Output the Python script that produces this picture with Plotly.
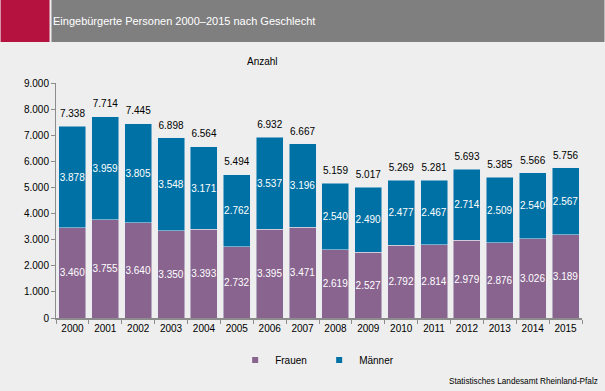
import plotly.graph_objects as go

years = [str(y) for y in range(2000, 2016)]
frauen = [3460, 3755, 3640, 3350, 3393, 2732, 3395, 3471, 2619, 2527, 2792, 2814, 2979, 2876, 3026, 3189]
maenner = [3878, 3959, 3805, 3548, 3171, 2762, 3537, 3196, 2540, 2490, 2477, 2467, 2714, 2509, 2540, 2567]
totals = [7338, 7714, 7445, 6898, 6564, 5494, 6932, 6667, 5159, 5017, 5269, 5281, 5693, 5385, 5566, 5756]
y_ticks = [0, 1000, 2000, 3000, 4000, 5000, 6000, 7000, 8000, 9000]

W, H = 605, 391
L, R, T, B = 55.5, 22.5, 83, 73
PW, PH = W - L - R, H - T - B


def px(x):
    return (x - L) / PW


def py(y):
    return 1 - (y - T) / PH


C_F = "#89648F"
C_M = "#0071A4"
BG = "#EDEEED"
FONT = "Liberation Sans, Arial, sans-serif"

fig = go.Figure()
fig.add_trace(go.Bar(
    x=years, y=frauen, name="Frauen", marker_color=C_F, showlegend=False,
    texttemplate="%{y:,}", textposition="inside", insidetextanchor="middle",
    textangle=0, textfont=dict(color="white", size=10, family=FONT),
))
fig.add_trace(go.Bar(
    x=years, y=maenner, name="Männer", marker_color=C_M, showlegend=False,
    texttemplate="%{y:,}", textposition="inside", insidetextanchor="middle",
    textangle=0, textfont=dict(color="white", size=10, family=FONT),
))
fig.add_trace(go.Scatter(
    x=years, y=totals, mode="markers+text", texttemplate="%{y:,}", textposition="top center",
    marker=dict(size=9, color="rgba(0,0,0,0)"),
    textfont=dict(color="black", size=10, family=FONT), showlegend=False,
    cliponaxis=False, hoverinfo="skip",
))
# legend entries (small squares)
for name, col in [("Frauen", C_F), ("Männer", C_M)]:
    fig.add_trace(go.Scatter(
        x=[None], y=[None], mode="markers", name=name,
        marker=dict(symbol="square", size=6, color=col),
    ))

fig.update_layout(
    width=W, height=H,
    margin=dict(l=L, r=R, t=T, b=B, pad=0, autoexpand=False),
    paper_bgcolor=BG, plot_bgcolor=BG,
    barmode="stack", bargap=0.18,
    separators=",.",
    font=dict(family=FONT, size=10, color="black"),
    uniformtext=dict(minsize=10, mode="show"),
    showlegend=True,
    legend=dict(
        orientation="h", traceorder="normal", x=px(235), y=py(360), xanchor="left", yanchor="middle",
        bgcolor="rgba(0,0,0,0)", font=dict(size=10, family=FONT), entrywidth=39,
        itemclick=False,
    ),
    xaxis=dict(
        type="category", range=[-0.5, len(years) - 0.5],
        showgrid=False, showline=True, linecolor="#8C8C8C", linewidth=2,
        ticks="outside", tickson="boundaries", ticklen=4, tickcolor="#8C8C8C", tickwidth=1,
        tickangle=0, automargin=False,
        tickfont=dict(size=10, family=FONT, color="black"),
    ),
    yaxis=dict(
        range=[0, 9000], tickvals=y_ticks, tickformat=",", showgrid=False, zeroline=False,
        showline=True, linecolor="#8C8C8C", linewidth=1, automargin=False,
        ticks="outside", ticklen=4, tickcolor="#8C8C8C",
        tickfont=dict(size=10, family=FONT, color="black"),
    ),
    shapes=[
        dict(type="rect", xref="paper", yref="paper", x0=px(0), x1=px(49), y0=py(0), y1=py(42),
             fillcolor="#B5123F", line_width=0, layer="below"),
        dict(type="rect", xref="paper", yref="paper", x0=px(51), x1=px(605), y0=py(0), y1=py(42),
             fillcolor="#7F7F7F", line_width=0, layer="below"),
    ],
    annotations=[
        dict(text="Eingebürgerte Personen 2000–2015 nach Geschlecht", xref="paper", yref="paper",
             x=px(50), y=py(21), xanchor="left", yanchor="middle", showarrow=False,
             font=dict(color="white", size=11, family=FONT)),
        dict(text="Anzahl", xref="paper", yref="paper", x=px(262), y=py(61),
             xanchor="center", yanchor="middle", showarrow=False,
             font=dict(color="black", size=10, family=FONT)),
        dict(text="Statistisches Landesamt Rheinland-Pfalz", xref="paper", yref="paper",
             x=px(601), y=py(381), xanchor="right", yanchor="middle", showarrow=False,
             font=dict(color="black", size=8.2, family=FONT)),
    ],
)

fig.write_html(
    "out.html",
    config={"displayModeBar": False},
    post_script="document.body.style.margin='0';document.body.style.overflow='hidden';",
)
